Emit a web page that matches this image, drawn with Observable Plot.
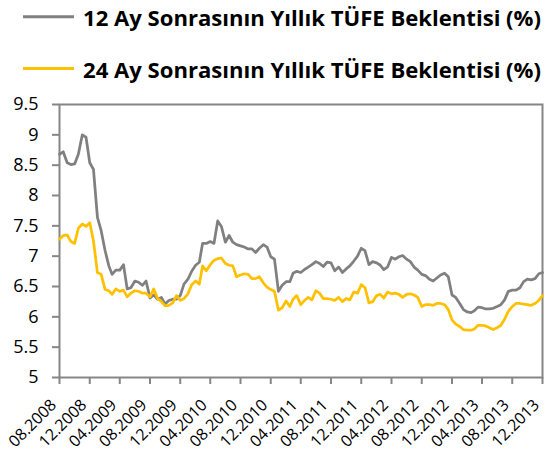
<!DOCTYPE html>
<html><head><meta charset="utf-8">
<script src="https://cdn.jsdelivr.net/npm/d3@7"></script>
<script src="https://cdn.jsdelivr.net/npm/@observablehq/plot@0.6"></script>
<style>
body{margin:0;background:#fff;}
#chart{width:545px;}
#chart svg{display:block;}
</style>
</head><body><div id="chart"></div>
<script>
// Survey dates: twice monthly (1st and 16th), starting August 2008
const firstSurveyMonth = "2008-08-01";
const seriesNames = ["12 Ay Sonrasının Yıllık TÜFE Beklentisi (%)", "24 Ay Sonrasının Yıllık TÜFE Beklentisi (%)"];
const seriesColors = ["#808080", "#FFC000"];

const expect12 = [
8.68,8.72,8.54,8.51,8.52,8.68,9.00,8.96,8.54,8.43,
7.64,7.42,7.09,6.84,6.70,6.77,6.77,6.86,6.46,6.48,
6.59,6.57,6.52,6.59,6.31,6.36,6.29,6.32,6.21,6.27,
6.29,6.29,6.35,6.54,6.62,6.75,6.85,6.90,7.21,7.21,
7.24,7.21,7.58,7.49,7.23,7.34,7.23,7.19,7.17,7.15,
7.12,7.12,7.06,7.13,7.19,7.15,6.99,6.95,6.42,6.52,
6.58,6.58,6.72,6.75,6.73,6.78,6.82,6.86,6.91,6.88,
6.83,6.90,6.89,6.76,6.82,6.73,6.79,6.84,6.92,7.00,
7.13,7.09,6.86,6.91,6.89,6.85,6.78,6.82,6.98,6.95,
6.99,7.01,6.95,6.91,6.82,6.77,6.70,6.68,6.62,6.59,
6.64,6.69,6.72,6.66,6.36,6.32,6.22,6.12,6.08,6.07,
6.10,6.16,6.15,6.13,6.13,6.14,6.17,6.20,6.28,6.42,
6.44,6.44,6.48,6.58,6.62,6.61,6.63,6.71,6.73
];
const expect24 = [
7.28,7.34,7.35,7.24,7.21,7.46,7.53,7.49,7.55,7.25,
6.73,6.70,6.45,6.43,6.37,6.46,6.42,6.44,6.33,6.39,
6.43,6.42,6.39,6.39,6.33,6.46,6.30,6.25,6.18,6.19,
6.23,6.35,6.27,6.30,6.38,6.53,6.59,6.54,6.84,6.76,
6.86,6.93,6.96,6.97,6.88,6.85,6.84,6.66,6.69,6.71,
6.70,6.63,6.63,6.66,6.56,6.49,6.45,6.42,6.11,6.15,
6.26,6.17,6.29,6.35,6.20,6.27,6.32,6.28,6.43,6.39,
6.30,6.30,6.29,6.27,6.32,6.25,6.30,6.28,6.41,6.39,
6.53,6.48,6.23,6.25,6.35,6.37,6.31,6.41,6.38,6.39,
6.37,6.32,6.37,6.38,6.36,6.32,6.17,6.20,6.20,6.19,
6.22,6.22,6.20,6.12,5.95,5.88,5.84,5.79,5.78,5.78,
5.80,5.86,5.86,5.85,5.82,5.79,5.82,5.86,5.96,6.09,
6.17,6.22,6.22,6.21,6.20,6.19,6.22,6.27,6.35
];
const xTickLabels = ["08.2008","12.2008","04.2009","08.2009","12.2009","04.2010","08.2010","12.2010","04.2011","08.2011","12.2011","04.2012","08.2012","12.2012","04.2013","08.2013","12.2013"];
const yTicks = [5,5.5,6,6.5,7,7.5,8,8.5,9,9.5];

const start = new Date(firstSurveyMonth + "T00:00:00Z");
const surveyDate = i => {
  const m = d3.utcMonth.offset(start, Math.floor(i / 2));
  return i % 2 ? d3.utcDay.offset(m, 15) : m;
};
const rows = [];
[expect12, expect24].forEach((arr, s) => arr.forEach((v, i) => rows.push({date: surveyDate(i), value: v, series: seriesNames[s]})));
const parseTick = d3.utcParse("%m.%Y");
const xTicks = xTickLabels.map(parseTick);
const fmtTick = d3.utcFormat("%m.%Y");

const FONT = "'Open Sans', sans-serif";
const AXIS = "#868686";

// Legend (above the plot)
const leg = d3.create("svg").attr("width", 545).attr("height", 88);
seriesNames.forEach((name, i) => {
  const cy = 16.7 + i * 51.8;
  leg.append("line").attr("x1", 23).attr("x2", 74).attr("y1", cy).attr("y2", cy)
    .attr("stroke", seriesColors[i]).attr("stroke-width", 3);
  leg.append("text").attr("x", 83).attr("y", cy + 9)
    .attr("font-family", FONT).attr("font-weight", "bold").attr("font-size", 21)
    .attr("textLength", 458).attr("lengthAdjust", "spacingAndGlyphs")
    .attr("fill", "#000").text(name);
});
document.getElementById("chart").append(leg.node());

const chart = Plot.plot({
  width: 545,
  height: 375,
  marginLeft: 59,
  marginRight: 3,
  marginTop: 16,
  marginBottom: 86,
  style: {fontFamily: FONT, background: "#fff"},
  x: {type: "utc", domain: [xTicks[0], xTicks[xTicks.length - 1]]},
  y: {domain: [5, 9.5]},
  color: {domain: seriesNames, range: seriesColors},
  marks: [
    Plot.frame({stroke: AXIS, strokeWidth: 2}),
    Plot.axisY({ticks: yTicks, tickFormat: d => String(d), tickSize: 7, tickPadding: 14,
      fontSize: 18, stroke: AXIS, strokeWidth: 2, fill: "#000", label: null}),
    Plot.axisX({ticks: xTicks, tickFormat: () => "", tickSize: 7, stroke: AXIS, strokeWidth: 2, label: null}),
    Plot.text(xTicks, {x: d => d, frameAnchor: "bottom", text: d => fmtTick(d), rotate: -45,
      textAnchor: "end", lineAnchor: "middle", dx: -6, dy: 25, fontSize: 16, fill: "#000"}),
    Plot.line(rows, {x: "date", y: "value", z: "series", stroke: "series", strokeWidth: 2.75, strokeLinejoin: "round"})
  ]
});
document.getElementById("chart").append(chart);
</script>
</body></html>
